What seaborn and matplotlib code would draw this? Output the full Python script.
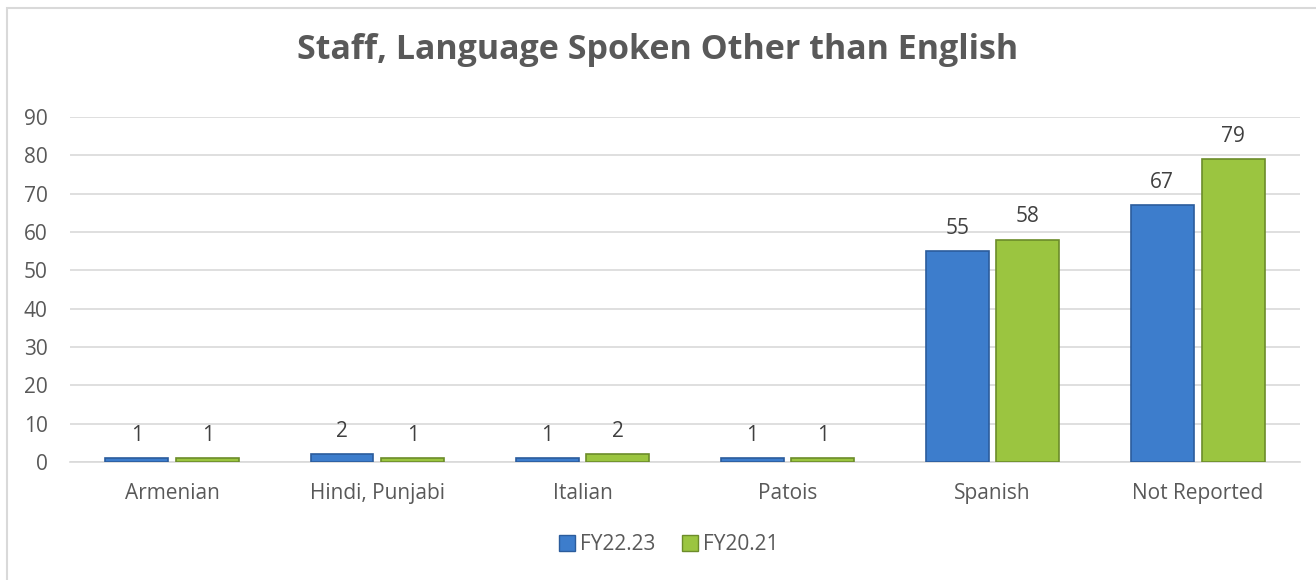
import matplotlib
matplotlib.use("Agg")
import matplotlib.pyplot as plt
from matplotlib.patches import Rectangle
import seaborn as sns
import pandas as pd

# Chart data
languages = ["Armenian", "Hindi, Punjabi", "Italian", "Patois", "Spanish", "Not Reported"]
fy22_23 = [1, 2, 1, 1, 55, 67]
fy20_21 = [1, 1, 2, 1, 58, 79]
series_names = ["FY22.23", "FY20.21"]

df = pd.DataFrame({
    "Language": languages * 2,
    "Staff": fy22_23 + fy20_21,
    "Year": [series_names[0]] * len(languages) + [series_names[1]] * len(languages),
})

sns.set_theme(style="white")
plt.rcParams["font.family"] = ["Open Sans", "DejaVu Sans"]

text_color = "#595959"
face_colors = {"FY22.23": "#3D7DCC", "FY20.21": "#9BC540"}
edge_colors = {"FY22.23": "#2B5C9C", "FY20.21": "#6C8C2A"}

fig = plt.figure(figsize=(13.16, 5.8), dpi=100)
ax = fig.add_axes([0.053, 0.2034, 0.935, 0.5948])

sns.barplot(data=df, x="Language", y="Staff", hue="Year", order=languages,
            hue_order=series_names, palette=face_colors, saturation=1,
            width=0.69, gap=0.11, ax=ax, legend=True, zorder=3)

# Darker outline per series and value labels above each bar
for container, name in zip(ax.containers, series_names):
    for bar in container:
        bar.set_edgecolor(edge_colors[name])
        bar.set_linewidth(1.2)
    ax.bar_label(container, padding=9, fontsize=15, color="#404040")

ax.set_ylim(0, 90)
ax.set_yticks(range(0, 91, 10))
ax.yaxis.grid(True, color="#D9D9D9", linewidth=1.2, zorder=0)
ax.set_axisbelow(True)
for s in ["top", "right", "left"]:
    ax.spines[s].set_visible(False)
ax.spines["bottom"].set_color("#D9D9D9")
ax.spines["bottom"].set_linewidth(1.2)
ax.set_xlabel("")
ax.set_ylabel("")
ax.tick_params(axis="both", length=0, labelsize=15, labelcolor=text_color)
ax.tick_params(axis="x", pad=15)
ax.tick_params(axis="y", pad=16)
ax.set_xlim(-0.5, len(languages) - 0.5)

leg = ax.legend(loc="center", bbox_to_anchor=(0.487, -0.24), ncol=2,
                frameon=False, fontsize=15, handlelength=0.75, handleheight=0.75,
                handletextpad=0.25, columnspacing=1.3)
for t in leg.get_texts():
    t.set_color(text_color)
for h, name in zip(leg.legend_handles, series_names):
    h.set_edgecolor(edge_colors[name])

fig.text(0.5, 0.913, "Staff, Language Spoken Other than English",
         ha="center", va="center", fontsize=24.5, fontweight="bold", color=text_color)

# Chart frame
fig.patches.append(Rectangle((7 / 1316, -0.05), 1.2, 1 - 8 / 580 + 0.05,
                             transform=fig.transFigure, fill=False,
                             edgecolor="#D9D9D9", linewidth=1.5))

fig.savefig("out.png", dpi=100)
